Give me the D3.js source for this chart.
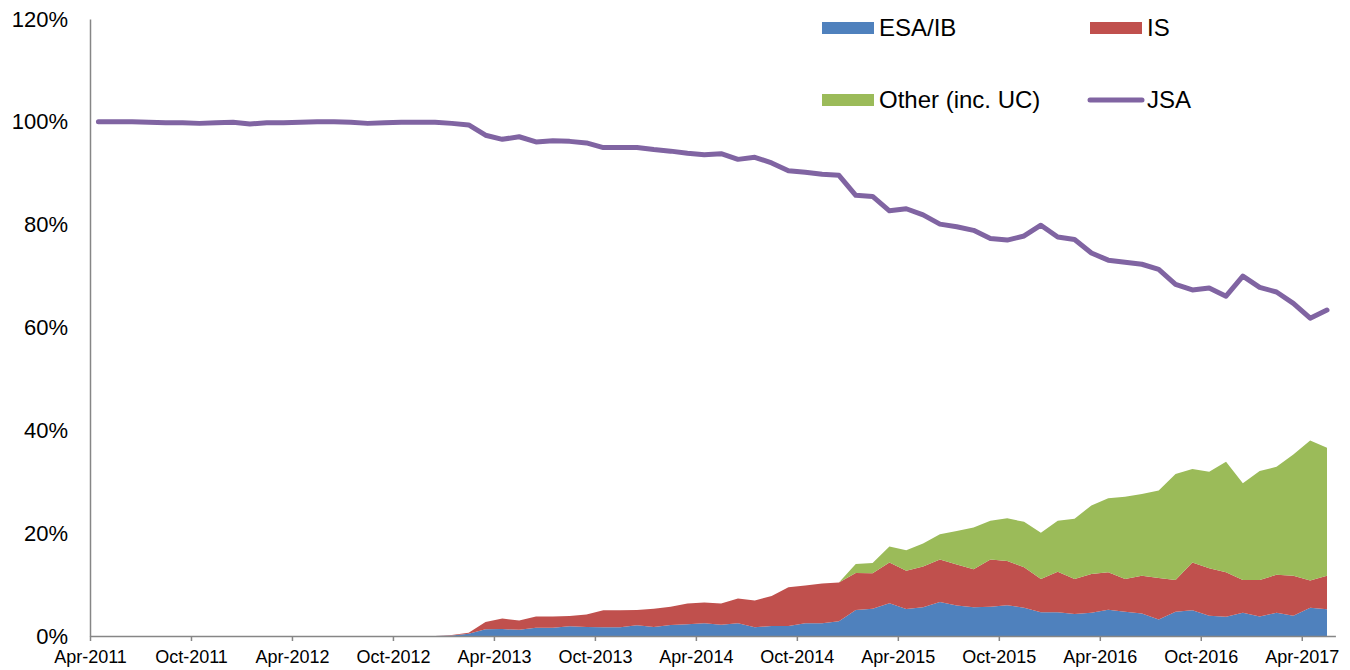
<!DOCTYPE html>
<html>
<head>
<meta charset="utf-8">
<script src="https://cdn.jsdelivr.net/npm/d3@7"></script>
<style>
  body { margin: 0; background: #fff; }
  svg { font-family: "Liberation Sans", Arial, sans-serif; }
</style>
</head>
<body>
<div id="plot"></div>
<script>
// monthly categories Apr-2011 .. May-2017 (74 months)
const startMonth = new Date(2011, 3, 1);
const months = d3.timeMonth.range(startMonth, new Date(2017, 5, 1));

const tickLabels = ["Apr-2011", "Oct-2011", "Apr-2012", "Oct-2012", "Apr-2013", "Oct-2013",
  "Apr-2014", "Oct-2014", "Apr-2015", "Oct-2015", "Apr-2016", "Oct-2016", "Apr-2017"];
const yTicks = [0, 20, 40, 60, 80, 100, 120];

// share of claimants, %
const esaIb = [0, 0, 0, 0, 0, 0, 0, 0, 0, 0, 0, 0, 0, 0, 0, 0, 0, 0, 0, 0,
  0, 0.1, 0.45, 1.3, 1.35, 1.2, 1.6, 1.6, 1.9, 1.75, 1.7, 1.7, 2.1, 1.75, 2.15, 2.3,
  2.5, 2.2, 2.5, 1.7, 1.95, 1.95, 2.5, 2.5, 2.85, 5.05, 5.3, 6.35, 5.25, 5.6, 6.6,
  5.95, 5.6, 5.7, 6.0, 5.5, 4.6, 4.6, 4.3, 4.5, 5.1, 4.7, 4.4, 3.2, 4.7, 5.0,
  3.95, 3.75, 4.5, 3.8, 4.5, 3.95, 5.5, 5.2];
const is = [0, 0, 0, 0, 0, 0, 0, 0, 0, 0, 0, 0, 0, 0, 0, 0, 0, 0, 0, 0,
  0, 0.1, 0.2, 1.4, 2.05, 1.8, 2.2, 2.2, 2.0, 2.45, 3.3, 3.3, 2.95, 3.55, 3.55, 4.0,
  4.0, 4.1, 4.8, 5.2, 5.85, 7.55, 7.3, 7.7, 7.55, 7.2, 6.9, 7.95, 7.45, 7.9, 8.3,
  7.95, 7.4, 9.2, 8.6, 7.85, 6.5, 7.9, 6.8, 7.55, 7.3, 6.4, 7.3, 8.1, 6.2, 9.3,
  9.25, 8.65, 6.4, 7.1, 7.4, 7.75, 5.3, 6.5];
const other = [0, 0, 0, 0, 0, 0, 0, 0, 0, 0, 0, 0, 0, 0, 0, 0, 0, 0, 0, 0,
  0, 0, 0, 0, 0, 0, 0, 0, 0, 0, 0, 0, 0, 0, 0, 0,
  0, 0, 0, 0, 0, 0, 0, 0, 0, 1.75, 2.0, 3.1, 4.0, 4.5, 4.9,
  6.5, 8.1, 7.5, 8.3, 8.85, 9.0, 9.9, 11.7, 13.35, 14.4, 16.0, 15.9, 17.0, 20.6, 18.2,
  18.75, 21.5, 18.8, 21.2, 21.0, 23.6, 27.2, 24.9];
const jsa = [100.0, 100.0, 100.0, 99.9, 99.8, 99.8, 99.7, 99.8, 99.9, 99.6, 99.8, 99.8,
  99.9, 100.0, 100.0, 99.9, 99.7, 99.8, 99.9, 99.9, 99.9, 99.7, 99.4, 97.4, 96.6, 97.1,
  96.1, 96.3, 96.2, 95.9, 95.0, 95.0, 95.0, 94.6, 94.3, 93.9, 93.6, 93.8, 92.7, 93.1,
  92.0, 90.5, 90.2, 89.8, 89.6, 85.7, 85.5, 82.7, 83.1, 81.9, 80.1, 79.6, 78.9, 77.3,
  77.0, 77.8, 79.9, 77.6, 77.1, 74.5, 73.1, 72.7, 72.3, 71.3, 68.4, 67.3, 67.7, 66.1,
  70.0, 67.8, 66.9, 64.7, 61.8, 63.4];

const seriesKeys = ["esaIb", "is", "other"];
const seriesNames = { esaIb: "ESA/IB", is: "IS", other: "Other (inc. UC)" };
const colors = { esaIb: "#4F81BD", is: "#C0504D", other: "#9BBB59", jsa: "#8064A2" };

const rows = months.map((m, i) => ({ i: i, esaIb: esaIb[i], is: is[i], other: other[i], jsa: jsa[i] }));

const width = 1350, height = 670;
const margin = { top: 19, right: 15, bottom: 34, left: 90 };

const svg = d3.select("#plot").append("svg")
  .attr("width", width)
  .attr("height", height);

// month slots: category i sits in the middle of its slot
const x = d3.scaleLinear()
  .domain([0, months.length])
  .range([margin.left, margin.left + months.length * 16.83]);
const y = d3.scaleLinear()
  .domain([0, 120])
  .range([height - margin.bottom, margin.top]);

const stacked = d3.stack().keys(seriesKeys)(rows);

const area = d3.area()
  .x(d => x(d.data.i + 0.5))
  .y0(d => y(d[0]))
  .y1(d => y(d[1]));

svg.append("g").selectAll("path")
  .data(stacked)
  .join("path")
  .attr("fill", d => colors[d.key])
  .attr("d", area);

const line = d3.line()
  .x(d => x(d.i + 0.5))
  .y(d => y(d.jsa));

svg.append("path")
  .datum(rows)
  .attr("fill", "none")
  .attr("stroke", colors.jsa)
  .attr("stroke-width", 5)
  .attr("stroke-linejoin", "round")
  .attr("stroke-linecap", "round")
  .attr("d", line);

// axes
const xAxis = svg.append("g")
  .attr("transform", `translate(0,${y(0)})`)
  .call(d3.axisBottom(x)
    .tickValues(d3.range(0, 73, 6))
    .tickFormat((d, i) => tickLabels[i])
    .tickSize(5)
    .tickSizeOuter(0));
xAxis.select(".domain").attr("stroke", "#868686").attr("stroke-width", 1.5);
xAxis.selectAll(".tick line").attr("stroke", "#868686").attr("stroke-width", 1.5);
xAxis.selectAll(".tick text")
  .attr("y", 14)
  .attr("fill", "#000")
  .style("font-size", "18px");

const yAxis = svg.append("g")
  .attr("transform", `translate(${margin.left},0)`)
  .call(d3.axisLeft(y)
    .tickValues(yTicks)
    .tickFormat(d => d + "%")
    .tickSize(0)
    .tickSizeOuter(0));
yAxis.select(".domain").attr("stroke", "#868686").attr("stroke-width", 1.5);
yAxis.selectAll(".tick text")
  .attr("x", -22)
  .attr("fill", "#000")
  .style("font-size", "22px");

// legend
const legendItems = [
  { key: "esaIb", x: 822, y: 28, type: "rect" },
  { key: "is", x: 1090, y: 28, type: "rect" },
  { key: "other", x: 822, y: 100, type: "rect" },
  { key: "jsa", x: 1090, y: 100, type: "line" }
];
const legend = svg.append("g");
legendItems.forEach(it => {
  const g = legend.append("g").attr("transform", `translate(${it.x},${it.y})`);
  if (it.type === "rect") {
    g.append("rect").attr("x", 0).attr("y", -6).attr("width", 52).attr("height", 12)
      .attr("fill", colors[it.key]);
  } else {
    g.append("line").attr("x1", 0).attr("x2", 52).attr("y1", 0).attr("y2", 0)
      .attr("stroke", colors.jsa).attr("stroke-width", 5).attr("stroke-linecap", "round");
  }
  g.append("text")
    .attr("x", 57)
    .attr("y", 0)
    .attr("dy", "0.35em")
    .style("font-size", "24px")
    .text(it.key === "jsa" ? "JSA" : seriesNames[it.key]);
});
</script>
</body>
</html>
